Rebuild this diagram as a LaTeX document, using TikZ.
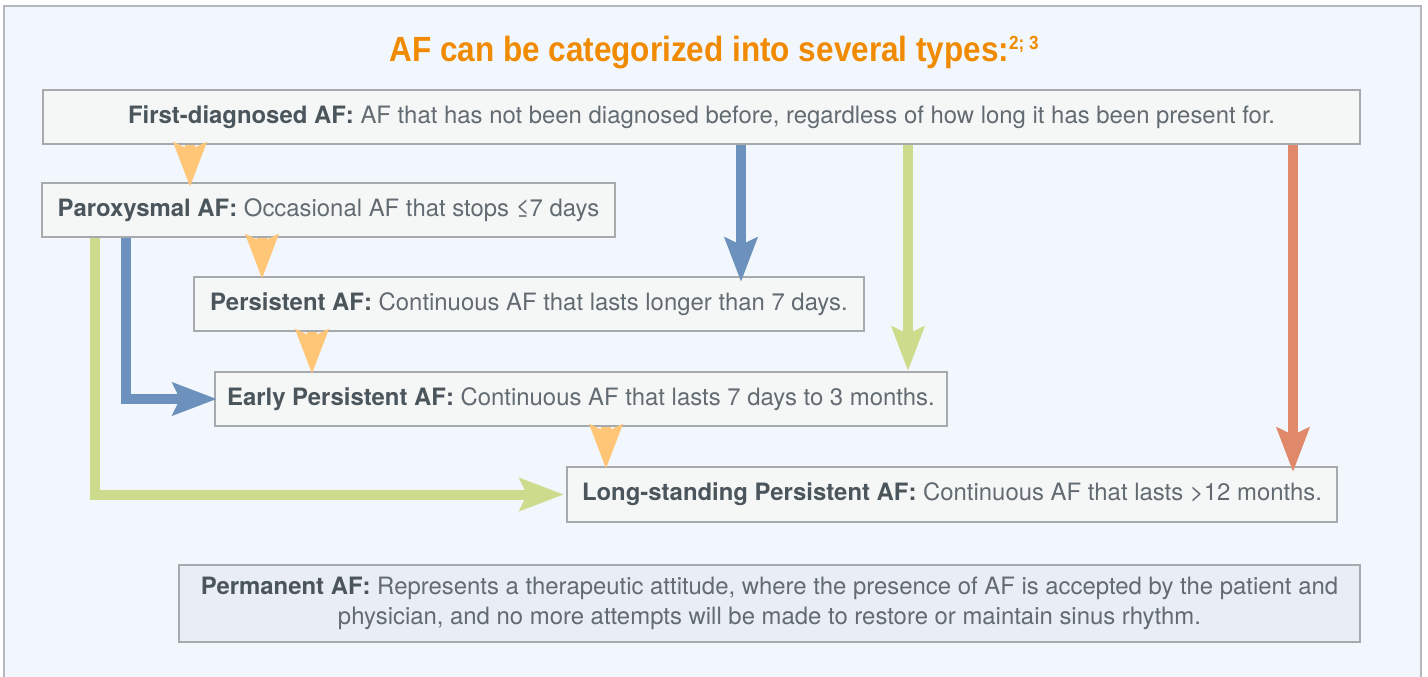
\documentclass[tikz,border=0pt]{standalone}
\usepackage{fontspec}
\setmainfont{TeX Gyre Heros}
\newfontfamily\titlefont[FakeStretch=0.9]{Liberation Sans Bold}
\usetikzlibrary{arrows.meta}
\definecolor{bgblue}{HTML}{F2F7FD}
\definecolor{framegray}{HTML}{B4B8BC}
\definecolor{boxgray}{HTML}{A6AAAD}
\definecolor{boxfill}{HTML}{F5F7F7}
\definecolor{permfill}{HTML}{E9EDF5}
\definecolor{txtbold}{HTML}{4B555C}
\definecolor{txtreg}{HTML}{626B71}
\definecolor{titleorange}{HTML}{F08A00}
\definecolor{arrorange}{HTML}{FFC677}
\definecolor{arrblue}{HTML}{6B91BC}
\definecolor{arrgreen}{HTML}{CCDC8C}
\definecolor{arrsalmon}{HTML}{E0896A}
\tikzset{
  box/.style={draw=boxgray, line width=2pt, fill=boxfill, minimum height=54pt,
    inner sep=0pt, anchor=north west, text=txtreg,
    font=\fontsize{23.9}{30}\selectfont},
  conn/.style={line width=10pt, -{Stealth[length=44pt,width=32pt,inset=7pt]}},
  orangeconn/.style={conn, draw=arrorange},
  blueconn/.style={conn, draw=arrblue},
  greenconn/.style={conn, draw=arrgreen},
  salmonconn/.style={conn, draw=arrsalmon},
}
\newcommand{\lbl}[1]{{\color{txtbold}\bfseries #1}}
\begin{document}
\begin{tikzpicture}[x=1pt,y=-1pt]
\useasboundingbox (0,0) rectangle (1428,677);
\clip (0,0) rectangle (1428,677);
\fill[white] (0,0) rectangle (1428,677);
\draw[draw=framegray, fill=bgblue, line width=1.5pt] (4,6) rectangle (1421,700);

\node[anchor=base, text=titleorange, font=\titlefont\fontsize{35}{40}\selectfont] (title) at (714,62)
  {AF can be categorized into several types:\raisebox{12pt}{\fontsize{19}{20}\selectfont 2; 3}};

\node[box, minimum width=1317pt] (first) at (42,89)
  {\lbl{First-diagnosed AF:} AF that has not been diagnosed before, regardless of how long it has been present for.};
\node[box, minimum width=573pt] (parox) at (41,182)
  {\lbl{Paroxysmal AF:} Occasional AF that stops \char"2264 7 days};
\node[box, minimum width=670pt] (pers) at (193,276)
  {\lbl{Persistent AF:} Continuous AF that lasts longer than 7 days.};
\node[box, minimum width=732pt] (early) at (214,371)
  {\lbl{Early Persistent AF:} Continuous AF that lasts 7 days to 3 months.};
\node[box, minimum width=770pt, minimum height=55pt] (long) at (566,466)
  {\lbl{Long-standing Persistent AF:} Continuous AF that lasts >12 months.};
\node[box, fill=permfill, minimum width=1181pt, minimum height=77pt, align=center] (perm) at (178,564)
  {\lbl{Permanent AF:} Represents a therapeutic attitude, where the presence of AF is accepted by the patient and\\
   physician, and no more attempts will be made to restore or maintain sinus rhythm.};

% orange chain
\draw[orangeconn] ([xshift=148pt]first.south west) -- ([xshift=149pt,yshift=-5pt]parox.north west);
\draw[orangeconn] ([xshift=221pt]parox.south west) -- ([xshift=69pt,yshift=-3pt]pers.north west);
\draw[orangeconn] ([xshift=119pt]pers.south west) -- ([xshift=98pt,yshift=-3pt]early.north west);
\draw[orangeconn] ([xshift=392pt]early.south west) -- ([xshift=40pt,yshift=-3pt]long.north west);
% from first-diagnosed
\draw[blueconn] ([xshift=699pt]first.south west) -- ([xshift=548pt,yshift=-6pt]pers.north west);
\draw[greenconn] ([xshift=866pt]first.south west) -- ([xshift=694pt,yshift=0pt]early.north west);
\draw[salmonconn] ([xshift=1251pt]first.south west) -- ([xshift=727pt,yshift=-6pt]long.north west);
% elbows from paroxysmal
\draw[blueconn] ([xshift=85pt]parox.south west) |- ([xshift=3pt]early.west);
\draw[greenconn] ([xshift=54pt]parox.south west) |- ([xshift=-2pt]long.west);
\end{tikzpicture}
\end{document}
